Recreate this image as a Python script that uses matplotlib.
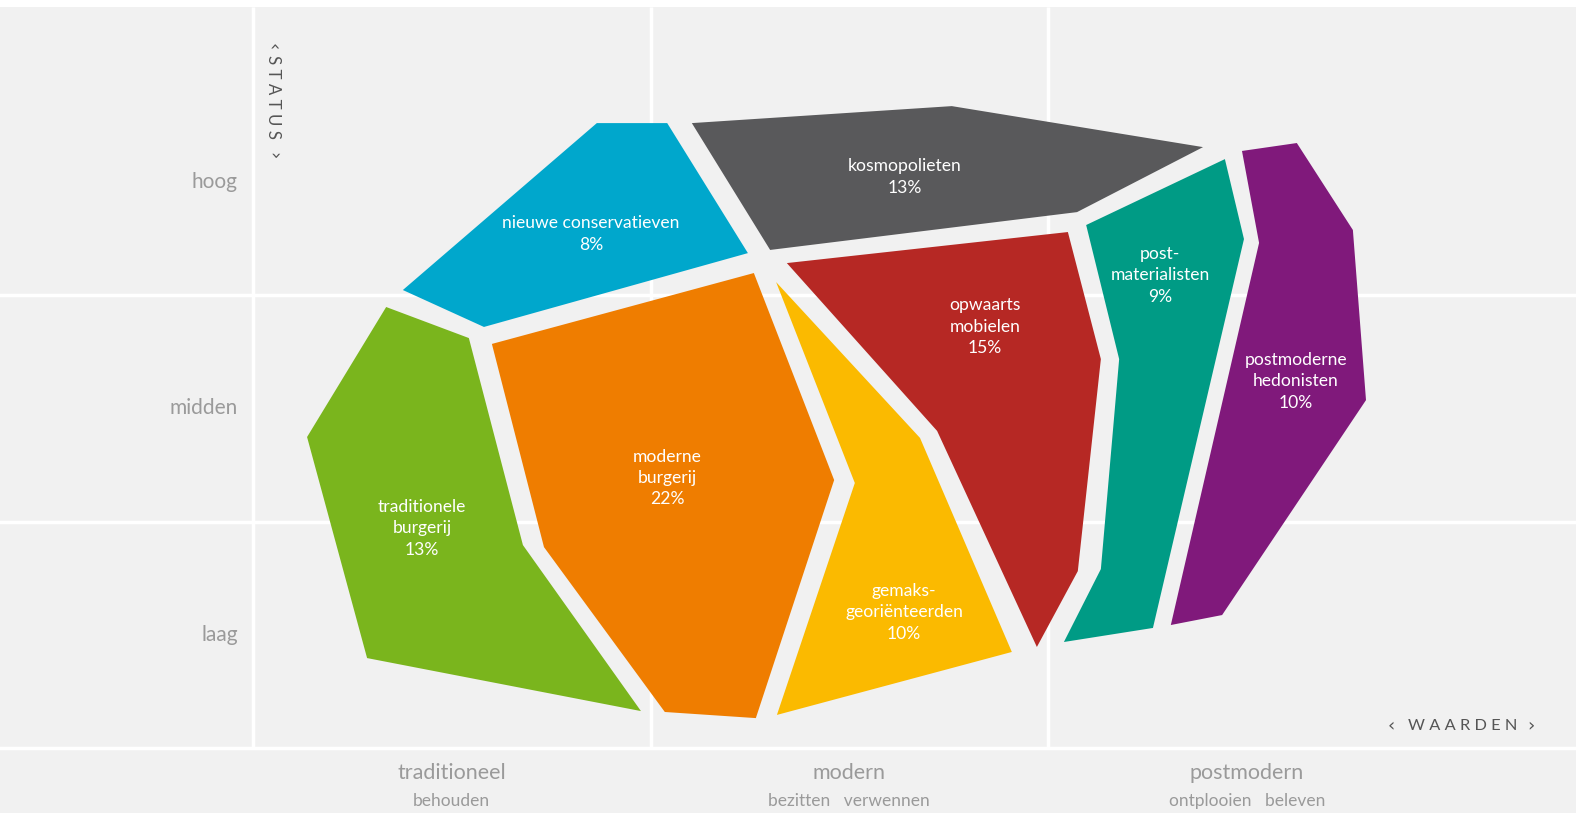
import numpy as np
import matplotlib
matplotlib.use("Agg")
import matplotlib.pyplot as plt

plt.rcParams['font.family'] = ['Lato', 'DejaVu Sans']

# assen: waarden (x) en status (y), 1 eenheid = 1 kolom / 1 rij
x_cats = ["traditioneel", "modern", "postmodern"]
x_subs = ["behouden", "bezitten   verwennen", "ontplooien   beleven"]
y_cats = ["laag", "midden", "hoog"]

# segmenten: naam, aandeel, kleur, hoekpunten (waarden, status)
names = ["nieuwe\u00a0conservatieven", "kosmopolieten", "opwaarts\nmobielen",
         "post-\nmaterialisten", "postmoderne\nhedonisten",
         "traditionele\nburgerij", "moderne\nburgerij", "gemaks-\ngeoriënteerden"]
shares = [8, 13, 15, 9, 10, 13, 22, 10]
colors = ["#00a7cc", "#59595b", "#b62824", "#009b85", "#80197b",
          "#7ab51d", "#ef7d00", "#fbba00"]

poly_nc = [(0.865, 2.759), (1.042, 2.759), (1.245, 2.185), (0.581, 1.859), (0.377, 2.022)]
poly_ko = [(1.104, 2.759), (1.758, 2.834), (2.390, 2.653), (2.073, 2.366), (1.301, 2.199)]
poly_om = [(1.343, 2.141), (2.050, 2.278), (2.133, 1.717), (2.075, 0.781), (1.972, 0.446), (1.721, 1.400)]
poly_pm = [(2.096, 2.309), (2.445, 2.600), (2.493, 2.247), (2.264, 0.530), (2.040, 0.468),
           (2.133, 0.790), (2.179, 1.717)]
poly_ph = [(2.488, 2.636), (2.626, 2.671), (2.767, 2.287), (2.800, 1.536), (2.438, 0.587),
           (2.309, 0.543), (2.531, 2.230)]
poly_tb = [(0.335, 1.947), (0.543, 1.810), (0.679, 0.896), (0.976, 0.163), (0.287, 0.397), (0.136, 1.373)]
poly_mb = [(0.601, 1.784), (1.260, 2.097), (1.462, 1.183), (1.265, 0.132), (1.036, 0.159), (0.732, 0.887)]
poly_ge = [(1.316, 2.057), (1.678, 1.369), (1.909, 0.424), (1.318, 0.146), (1.514, 1.170)]
polys = [poly_nc, poly_ko, poly_om, poly_pm, poly_ph, poly_tb, poly_mb, poly_ge]

label_pos = [(0.850, 2.269), (1.640, 2.521), (1.842, 1.859), (2.282, 2.088),
             (2.624, 1.620), (0.425, 0.971), (1.042, 1.192), (1.638, 0.600)]

bg = "#f1f1f1"
fig = plt.figure(figsize=(15.76, 8.13), dpi=100, facecolor=bg)
ax = fig.add_axes([0, 0, 1, 1])
ax.set_facecolor(bg)
ax.set_xlim(-0.6365, 3.3283)
ax.set_ylim(-0.287, 3.3025)
ax.axis('off')

# witte strook bovenaan
ax.axhspan(3.2715, 3.3025, color='white', lw=0)

# raster
for xv in [0, 1, 2]:
    ax.plot([xv, xv], [0, 3.2715], color='white', lw=2.5, solid_capstyle='butt', zorder=1)
for yv in [0, 1, 2]:
    ax.axhline(yv, color='white', lw=2.5, zorder=1)

for p, c in zip(polys, colors):
    arr = np.array(p)
    ax.fill(arr[:, 0], arr[:, 1], color=c, lw=0, zorder=2)

for name, s, (lx, ly) in zip(names, shares, label_pos):
    ax.text(lx, ly, f"{name}\n{s}%", ha='center', va='center', ma='center',
            color='white', fontsize=12.6, linespacing=1.42, zorder=3)

# as-labels
for i, lab in enumerate(y_cats):
    ax.text(-0.038, i + 0.5, lab, ha='right', va='center', color='#9a9a9a', fontsize=15)
for i, (lab, sub) in enumerate(zip(x_cats, x_subs)):
    ax.text(i + 0.5, -0.112, lab, ha='center', va='center', color='#9a9a9a', fontsize=15.5)
    ax.text(i + 0.5, -0.234, sub, ha='center', va='center', color='#9a9a9a', fontsize=12.5)

# aslabels met pijltjes
ax.text(3.042, 0.097, "W A A R D E N", ha='center', va='center',
        color='#555555', fontsize=11.8)
ax.text(2.863, 0.097, "‹", ha='center', va='center', color='#555555',
        fontsize=13, family=['DejaVu Sans'])
ax.text(3.215, 0.097, "›", ha='center', va='center', color='#555555',
        fontsize=13, family=['DejaVu Sans'])
ax.text(0.050, 2.873, "S T A T U S", ha='center', va='center', rotation=-90,
        color='#555555', fontsize=12.2)
ax.text(0.050, 3.095, "‹", ha='center', va='center', rotation=-90, color='#555555',
        fontsize=13, family=['DejaVu Sans'])
ax.text(0.050, 2.615, "›", ha='center', va='center', rotation=-90, color='#555555',
        fontsize=13, family=['DejaVu Sans'])

fig.savefig("out.png", dpi=100, facecolor=bg)
